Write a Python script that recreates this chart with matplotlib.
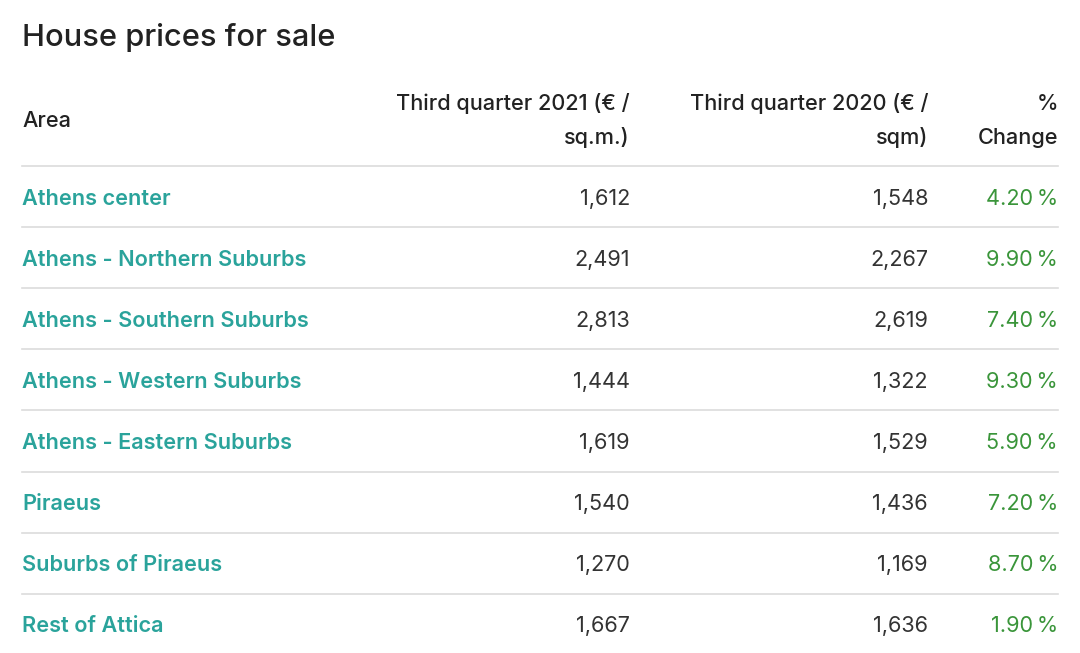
import matplotlib
matplotlib.use("Agg")
import matplotlib.pyplot as plt

title = "House prices for sale"
headers = ["Area", "Third quarter 2021 (€ /\nsq.m.)", "Third quarter 2020 (€ /\nsqm)", "%\nChange"]
areas = ["Athens center", "Athens - Northern Suburbs", "Athens - Southern Suburbs",
         "Athens - Western Suburbs", "Athens - Eastern Suburbs", "Piraeus",
         "Suburbs of Piraeus", "Rest of Attica"]
q3_2021 = [1612, 2491, 2813, 1444, 1619, 1540, 1270, 1667]
q3_2020 = [1548, 2267, 2619, 1322, 1529, 1436, 1169, 1636]
pct_change = [4.20, 9.90, 7.40, 9.30, 5.90, 7.20, 8.70, 1.90]

plt.rcParams['font.family'] = ['Inter', 'DejaVu Sans']

W, H = 1080, 653
fig = plt.figure(figsize=(W / 100, H / 100), dpi=100)
ax = fig.add_axes([0, 0, 1, 1])
ax.set_xlim(0, W)
ax.set_ylim(H, 0)
ax.axis('off')

left, right = 22, 1058
col_right = [630, 928, 1058]
fs = 15.6
teal = '#2aa39b'
green = '#3a953a'
dark = '#333333'
line_col = '#dcdcdc'

ax.text(left, 38, title, fontsize=22.2, color='#222222', va='center', ha='left',
        fontweight='medium')

# header
ax.text(left, 121, headers[0], fontsize=fs, color='#222222', va='center', ha='left',
        fontweight='medium')
for h, xr in zip(headers[1:], col_right):
    l1, l2 = h.split("\n")
    ax.text(xr, 104, l1, fontsize=fs, color='#222222', va='center', ha='right',
            fontweight='medium')
    ax.text(xr, 138, l2, fontsize=fs, color='#222222', va='center', ha='right',
            fontweight='medium')

row_top = 166
row_h = 61.1
ax.plot([left, right], [row_top, row_top], color=line_col, lw=1.2)
for i, (a, v1, v2, p) in enumerate(zip(areas, q3_2021, q3_2020, pct_change)):
    yc = row_top + row_h * (i + 0.5) + 2
    ax.text(left, yc, a, fontsize=fs, color=teal, va='center', ha='left', fontweight='semibold')
    ax.text(col_right[0], yc, f"{v1:,}", fontsize=fs, color=dark, va='center', ha='right')
    ax.text(col_right[1], yc, f"{v2:,}", fontsize=fs, color=dark, va='center', ha='right')
    ax.text(col_right[2], yc, f"{p:.2f}\u2009%", fontsize=fs, color=green, va='center', ha='right')
    if i < len(areas) - 1:
        yl = row_top + row_h * (i + 1)
        ax.plot([left, right], [yl, yl], color=line_col, lw=1.2)

fig.savefig("out.png", dpi=100, facecolor='white')
